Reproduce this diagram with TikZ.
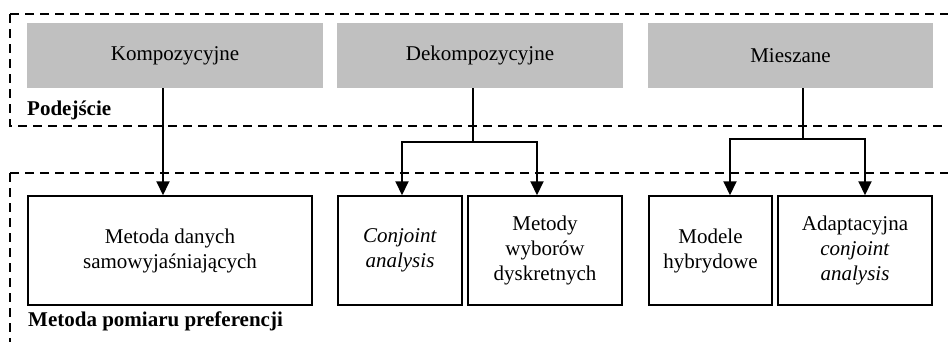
\documentclass[tikz,border=0pt]{standalone}
\usepackage{fontspec}
\setmainfont{Liberation Serif}
\usetikzlibrary{arrows.meta,calc}
\definecolor{boxgray}{RGB}{192,192,192}
\begin{document}
\begin{tikzpicture}[x=1pt,y=-1pt,
  every node/.style={font=\fontsize{21}{25}\selectfont},
  graybox/.style={fill=boxgray, draw=none, minimum height=65pt, inner sep=0pt, align=center},
  whitebox/.style={draw, line width=1.5pt, minimum height=109pt, inner sep=0pt, align=center},
  group/.style={draw, line width=1.3pt, dash pattern=on 9pt off 6pt},
  conn/.style={line width=2pt},
  arr/.style={line width=2pt, -{Triangle[length=14pt,width=13pt]}},
  lbl/.style={font=\fontsize{21}{24}\selectfont\bfseries, anchor=base west, inner sep=0pt}]
\useasboundingbox (0,0) rectangle (948,341);
\draw[group] (10,14) rectangle (960,126);
\draw[group] (10,173) rectangle (960,360);
\node[graybox, minimum width=296pt] (k) at (175,55.5) {Kompozycyjne};
\node[graybox, minimum width=286pt] (d) at (480,55.5) {Dekompozycyjne};
\node[graybox, minimum width=285pt] (m) at (790.5,55.5) {Mieszane};
\node[lbl] (pod) at (27,115) {Podejście};
\node[whitebox, minimum width=284pt] (b1) at (170,250.5) {Metoda danych\\samowyjaśniających};
\node[whitebox, minimum width=124pt] (b2) at (400,250.5) {\textit{Conjoint}\\\textit{analysis}};
\node[whitebox, minimum width=154pt] (b3) at (545,250.5) {Metody\\wyborów\\dyskretnych};
\node[whitebox, minimum width=123pt] (b4) at (710.5,250.5) {Modele\\hybrydowe};
\node[whitebox, minimum width=154pt] (b5) at (855,250.5) {Adaptacyjna\\\textit{conjoint}\\\textit{analysis}};
\node[lbl] (met) at (28,326) {Metoda pomiaru preferencji};
\draw[arr] ([xshift=-12pt]k.south) -- ([xshift=-12pt]k.south |- b1.north);
\coordinate (dj) at ($(d.south)+(-7,54)$);
\draw[conn] ([xshift=-7pt]d.south) -- (dj);
\draw[arr] (dj) -| ([xshift=2pt]b2.north);
\draw[arr] (dj) -| ([xshift=-8pt]b3.north);
\coordinate (mj) at ($(m.south)+(12.5,51)$);
\draw[conn] ([xshift=12.5pt]m.south) -- (mj);
\draw[arr] (mj) -| ([xshift=19.5pt]b4.north);
\draw[arr] (mj) -| ([xshift=10pt]b5.north);
\end{tikzpicture}
\end{document}
